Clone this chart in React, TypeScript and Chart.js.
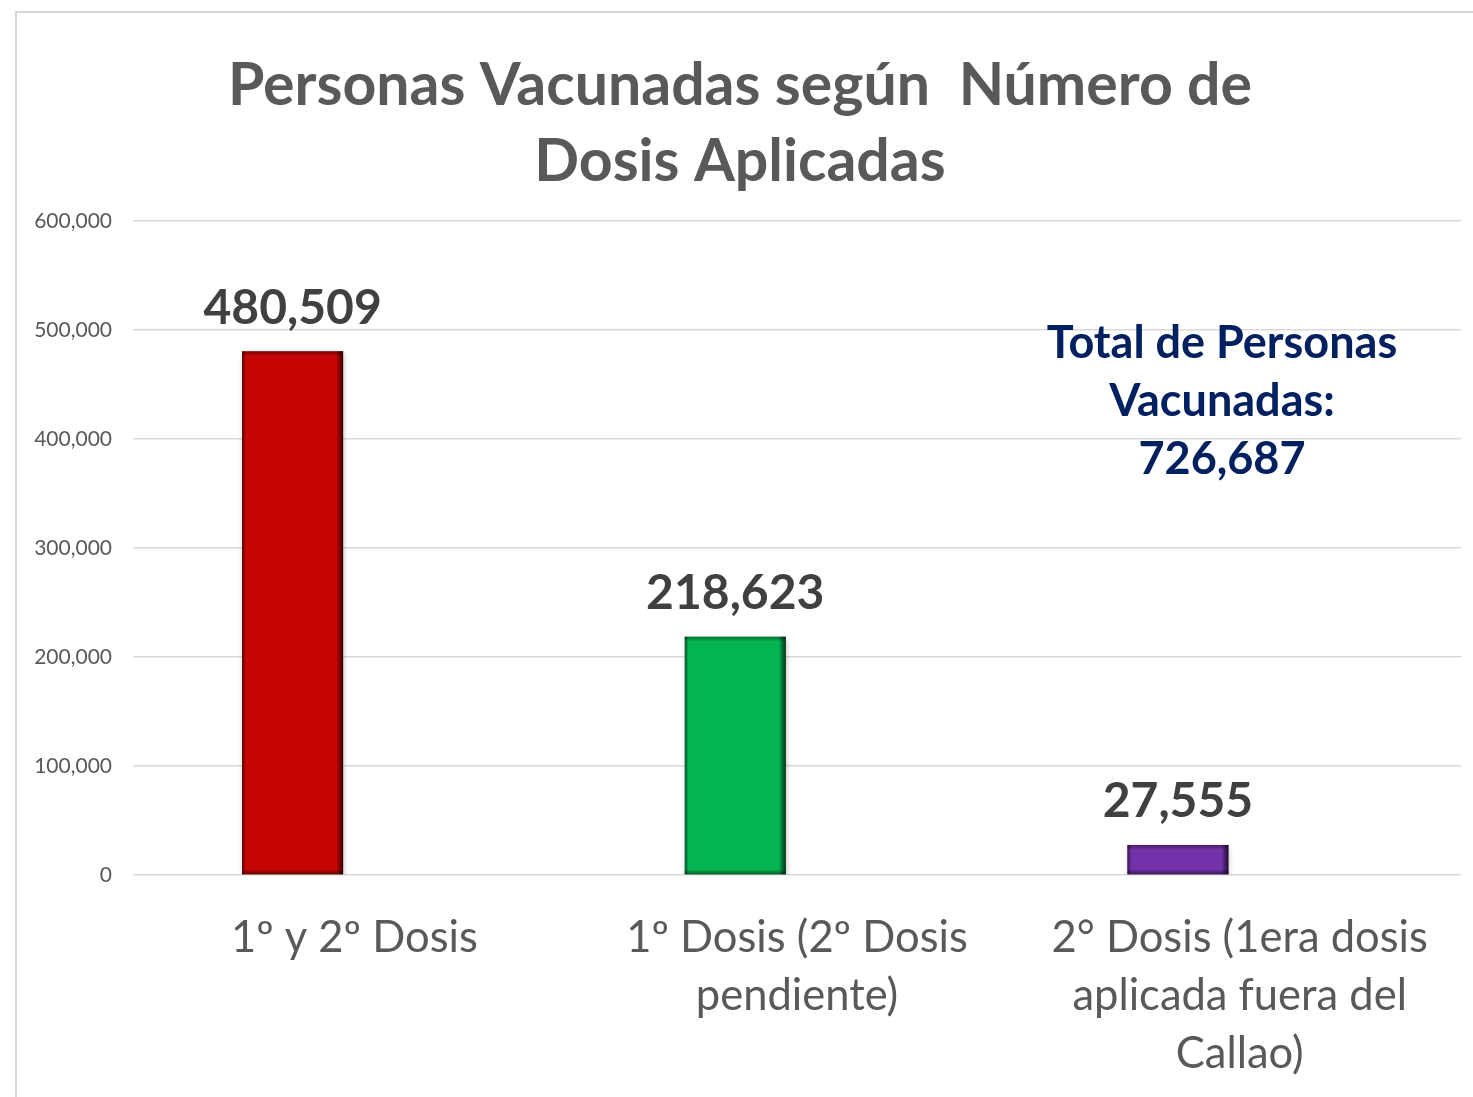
import React, { useEffect, useRef } from "react";
import { Chart, registerables } from "chart.js";

Chart.register(...registerables);

const W = 1473;
const H = 1097;

const TITLE_LINES = ["Personas Vacunadas según  Número de", "Dosis Aplicadas"];
const CATEGORIES: string[][] = [
  ["1º y 2º Dosis"],
  ["1º Dosis (2º Dosis", "pendiente)"],
  ["2° Dosis (1era dosis", "aplicada fuera del", "Callao)"],
];
const VALUES = [480509, 218623, 27555];
const BAR_COLORS = ["#C80505", "#05B552", "#7432AA"];
const NOTE_LINES = ["Total de Personas", "Vacunadas:", "726,687"];
const Y_MIN = 0;
const Y_MAX = 600000;
const Y_STEP = 100000;

const FONT = "Lato, 'Open Sans', sans-serif";

const fmt = (v: number) => v.toLocaleString("en-US");

const decorPlugin = {
  id: "decor",
  beforeDraw(chart: any) {
    const ctx = chart.ctx;
    ctx.save();
    ctx.fillStyle = "#ffffff";
    ctx.fillRect(0, 0, W, H);
    ctx.strokeStyle = "#d9d9d9";
    ctx.lineWidth = 2;
    ctx.beginPath();
    ctx.moveTo(16, H + 5);
    ctx.lineTo(16, 12);
    ctx.lineTo(W + 5, 12);
    ctx.stroke();
    ctx.restore();
  },
  beforeDatasetsDraw(chart: any) {
    const ctx = chart.ctx;
    ctx.save();
    ctx.shadowColor = "rgba(0,0,0,0.3)";
    ctx.shadowBlur = 5;
    ctx.shadowOffsetX = 1;
    ctx.shadowOffsetY = 2;
  },
  afterDatasetsDraw(chart: any) {
    const ctx = chart.ctx;
    ctx.restore();
    ctx.save();
    const meta = chart.getDatasetMeta(0);
    meta.data.forEach((el: any) => {
      const { x, y, base, width } = el.getProps(["x", "y", "base", "width"], true);
      const l = x - width / 2;
      const r = x + width / 2;
      const t = y;
      const b = base;
      let g = ctx.createLinearGradient(r - 7, 0, r, 0);
      g.addColorStop(0, "rgba(0,0,0,0)");
      g.addColorStop(1, "rgba(0,0,0,0.75)");
      ctx.fillStyle = g;
      ctx.fillRect(r - 7, t, 7, b - t);
      g = ctx.createLinearGradient(l, 0, l + 4, 0);
      g.addColorStop(0, "rgba(0,0,0,0.55)");
      g.addColorStop(1, "rgba(0,0,0,0)");
      ctx.fillStyle = g;
      ctx.fillRect(l, t, 4, b - t);
      g = ctx.createLinearGradient(0, b - 5, 0, b);
      g.addColorStop(0, "rgba(0,0,0,0)");
      g.addColorStop(1, "rgba(0,0,0,0.5)");
      ctx.fillStyle = g;
      ctx.fillRect(l, b - 5, width, 5);
      g = ctx.createLinearGradient(0, t, 0, t + 5);
      g.addColorStop(0, "rgba(0,0,0,0.4)");
      g.addColorStop(1, "rgba(0,0,0,0)");
      ctx.fillStyle = g;
      ctx.fillRect(l, t, width, 5);
    });
    ctx.restore();
  },
  afterDraw(chart: any) {
    const ctx = chart.ctx;
    ctx.save();
    ctx.textAlign = "center";
    ctx.textBaseline = "middle";
    // title
    ctx.fillStyle = "#595959";
    ctx.font = `bold 59px ${FONT}`;
    TITLE_LINES.forEach((line, i) => ctx.fillText(line, 740, 86 + i * 76));
    // data labels
    ctx.fillStyle = "#404040";
    ctx.font = `bold 48px ${FONT}`;
    const meta = chart.getDatasetMeta(0);
    meta.data.forEach((el: any, i: number) => {
      ctx.fillText(fmt(VALUES[i]), el.x, el.y - 43);
    });
    // note
    ctx.fillStyle = "#002060";
    ctx.font = `bold 45px ${FONT}`;
    NOTE_LINES.forEach((line, i) => ctx.fillText(line, 1222, 343 + i * 58));
    ctx.restore();
  },
};

export default function App() {
  const ref = useRef<HTMLCanvasElement>(null);
  useEffect(() => {
    if (!ref.current) return;
    const chart = new Chart(ref.current, {
      type: "bar",
      data: {
        labels: CATEGORIES,
        datasets: [
          {
            data: VALUES,
            backgroundColor: BAR_COLORS,
            borderWidth: 0,
            categoryPercentage: 0.558,
            barPercentage: 0.818,
          },
          {
            data: VALUES.map(() => null),
            backgroundColor: "rgba(0,0,0,0)",
            categoryPercentage: 0.558,
            barPercentage: 0.818,
          },
        ],
      },
      options: {
        responsive: false,
        animation: false,
        layout: { padding: { top: 221, right: 12, bottom: 0, left: 0 } },
        plugins: {
          legend: { display: false },
          title: { display: false },
          tooltip: { enabled: false },
        },
        scales: {
          x: {
            grid: { display: false, drawTicks: false },
            border: { display: false },
            ticks: {
              color: "#595959",
              font: { family: FONT, size: 43.5, lineHeight: 58 / 43.5 },
              padding: 34,
              maxRotation: 0,
              autoSkip: false,
            },
            afterFit: (s: any) => {
              s.height = H - 875;
            },
          },
          y: {
            min: Y_MIN,
            max: Y_MAX,
            grid: { color: "#d9d9d9", lineWidth: 1.5, drawTicks: false },
            border: { display: false },
            ticks: {
              stepSize: Y_STEP,
              color: "#595959",
              font: { family: FONT, size: 21 },
              padding: 21,
              callback: (v: any) => fmt(Number(v)),
            },
            afterFit: (s: any) => {
              s.width = 133;
            },
          },
        },
      },
      plugins: [decorPlugin],
    });
    return () => chart.destroy();
  }, []);
  return (
    <div style={{ position: "fixed", left: 0, top: 0, width: W, height: H, background: "#fff" }}>
      <canvas ref={ref} width={W} height={H} style={{ display: "block" }} />
    </div>
  );
}
